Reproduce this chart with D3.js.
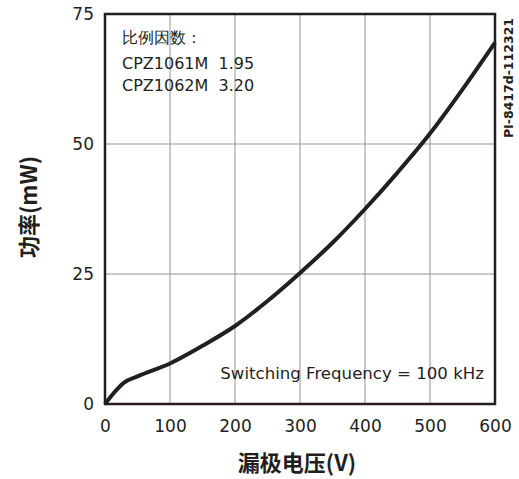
<!DOCTYPE html>
<html>
<head>
<meta charset="utf-8">
<script src="https://cdn.jsdelivr.net/npm/d3@7"></script>
<style>
body { margin: 0; background: #fff; }
text { font-family: "DejaVu Sans", Verdana, sans-serif; fill: #231f20; }
</style>
</head>
<body>
<div id="chart"></div>
<script>
// 漏极电压 (V) / 功率 (mW)
const voltage = [0, 10, 20, 28, 50, 100, 150, 200, 250, 300, 350, 400, 450, 500, 550, 600];
const power   = [0, 1.6, 3.0, 4.0, 5.3, 7.8, 11.2, 15.0, 19.8, 25.2, 31.0, 37.5, 44.5, 52.0, 60.5, 69.5];
const xTicks = [0, 100, 200, 300, 400, 500, 600];
const yTicks = [0, 25, 50, 75];
const noteLines = ["比例因数：", "CPZ1061M  1.95", "CPZ1062M  3.20"];

const margin = { top: 14, right: 24, bottom: 75, left: 105 };
const W = 519, H = 479;
const width = W - margin.left - margin.right;
const height = H - margin.top - margin.bottom;

const svg = d3.select("#chart").append("svg")
    .attr("width", W).attr("height", H);
const g = svg.append("g")
    .attr("transform", `translate(${margin.left},${margin.top})`);

const x = d3.scaleLinear().domain([0, 600]).range([0, width]);
const y = d3.scaleLinear().domain([0, 75]).range([height, 0]);

// 网格
g.append("g")
    .selectAll("line")
    .data(xTicks.slice(1, -1))
    .join("line")
    .attr("x1", d => x(d)).attr("x2", d => x(d))
    .attr("y1", 0).attr("y2", height)
    .attr("stroke", "#939393").attr("stroke-width", 1);
g.append("g")
    .selectAll("line")
    .data(yTicks.slice(1, -1))
    .join("line")
    .attr("y1", d => y(d)).attr("y2", d => y(d))
    .attr("x1", 0).attr("x2", width)
    .attr("stroke", "#939393").attr("stroke-width", 1);

// 坐标轴
const xAxis = g.append("g")
    .attr("transform", `translate(0,${height})`)
    .call(d3.axisBottom(x).tickValues(xTicks).tickSize(0).tickPadding(16));
const yAxis = g.append("g")
    .call(d3.axisLeft(y).tickValues(yTicks).tickSize(0).tickPadding(11));
[xAxis, yAxis].forEach(a => {
    a.select(".domain").remove();
    a.selectAll("text")
        .style("font-size", "17px")
        .style("font-family", "DejaVu Sans, sans-serif")
        .attr("fill", "#231f20");
});

// 文字框
const note = g.append("g").attr("transform", "translate(17,0)");
note.selectAll("text")
    .data(noteLines)
    .join("text")
    .attr("x", 0)
    .attr("y", (d, i) => [29, 55, 77][i])
    .style("font-size", "16px")
    .style("white-space", "pre")
    .attr("xml:space", "preserve")
    .text(d => d);

g.append("text")
    .attr("x", width - 11)
    .attr("y", y(4.8))
    .attr("text-anchor", "end")
    .style("font-size", "16.6px")
    .text("Switching Frequency = 100 kHz");

// 曲线
const line = d3.line()
    .x((d, i) => x(voltage[i]))
    .y(d => y(d))
    .curve(d3.curveMonotoneX);
g.append("path")
    .datum(power)
    .attr("d", line)
    .attr("fill", "none")
    .attr("stroke", "#231f20")
    .attr("stroke-width", 4);

// 边框
g.append("rect")
    .attr("width", width).attr("height", height)
    .attr("fill", "none")
    .attr("stroke", "#231f20")
    .attr("stroke-width", 2.5);

// 轴标题
svg.append("text")
    .attr("x", margin.left + width / 2 - 3)
    .attr("y", 471)
    .attr("text-anchor", "middle")
    .style("font-size", "22px")
    .style("font-weight", "bold")
    .style("font-family", "'Noto Sans CJK SC', sans-serif")
    .text("漏极电压(V)");

svg.append("text")
    .attr("transform", `translate(37,${margin.top + height / 2 - 2}) rotate(-90)`)
    .attr("text-anchor", "middle")
    .style("font-size", "22px")
    .style("font-weight", "bold")
    .style("font-family", "'Noto Sans CJK SC', sans-serif")
    .text("功率(mW)");

svg.append("text")
    .attr("transform", `translate(513,78) rotate(-90)`)
    .attr("text-anchor", "middle")
    .style("font-size", "12.5px")
    .style("font-weight", "bold")
    .text("PI-8417d-112321");
</script>
</body>
</html>
